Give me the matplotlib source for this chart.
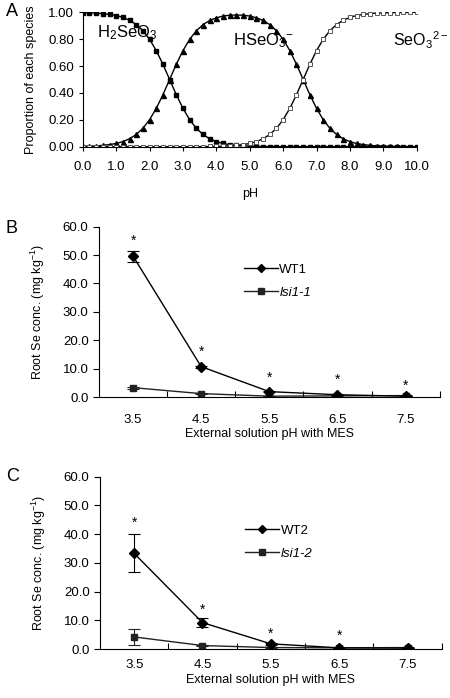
import matplotlib
matplotlib.use("Agg")
import matplotlib.pyplot as plt
from matplotlib.lines import Line2D

plt.rcParams["font.family"] = ["Liberation Sans", "DejaVu Sans"]
plt.rcParams["mathtext.fontset"] = "custom"
plt.rcParams["mathtext.rm"] = "Liberation Sans"
plt.rcParams["mathtext.it"] = "Liberation Sans:italic"

# panel A: species distribution vs pH
ph = [0.0, 0.2, 0.4, 0.6, 0.8, 1.0, 1.2, 1.4, 1.6, 1.8, 2.0, 2.2, 2.4, 2.6, 2.8,
      3.0, 3.2, 3.4, 3.6, 3.8, 4.0, 4.2, 4.4, 4.6, 4.8, 5.0, 5.2, 5.4, 5.6, 5.8,
      6.0, 6.2, 6.4, 6.6, 6.8, 7.0, 7.2, 7.4, 7.6, 7.8, 8.0, 8.2, 8.4, 8.6, 8.8,
      9.0, 9.2, 9.4, 9.6, 9.8, 10.0]
h2seo3 = [0.997, 0.996, 0.994, 0.990, 0.984, 0.976, 0.962, 0.941, 0.909, 0.863,
          0.799, 0.715, 0.613, 0.500, 0.387, 0.285, 0.201, 0.137, 0.091, 0.059,
          0.038, 0.024, 0.015, 0.010, 0.006, 0.004, 0.002, 0.001, 0.001, 0.000,
          0.000, 0.000, 0.000, 0.000, 0.000, 0.000, 0.000, 0.000, 0.000, 0.000,
          0.000, 0.000, 0.000, 0.000, 0.000, 0.000, 0.000, 0.000, 0.000, 0.000,
          0.000]
hseo3 = [0.003, 0.004, 0.006, 0.010, 0.016, 0.024, 0.038, 0.059, 0.091, 0.137,
         0.201, 0.285, 0.387, 0.500, 0.613, 0.715, 0.799, 0.862, 0.908, 0.939,
         0.959, 0.972, 0.978, 0.980, 0.978, 0.972, 0.959, 0.939, 0.908, 0.863,
         0.799, 0.715, 0.613, 0.500, 0.387, 0.285, 0.201, 0.137, 0.091, 0.059,
         0.038, 0.024, 0.016, 0.010, 0.006, 0.004, 0.003, 0.002, 0.001, 0.001,
         0.000]
seo3 = [0.000, 0.000, 0.000, 0.000, 0.000, 0.000, 0.000, 0.000, 0.000, 0.000,
        0.000, 0.000, 0.000, 0.000, 0.000, 0.000, 0.000, 0.000, 0.001, 0.002,
        0.002, 0.004, 0.006, 0.010, 0.016, 0.024, 0.038, 0.059, 0.091, 0.137,
        0.201, 0.285, 0.387, 0.500, 0.613, 0.715, 0.799, 0.863, 0.909, 0.941,
        0.962, 0.976, 0.984, 0.990, 0.994, 0.996, 0.997, 0.998, 0.999, 0.999,
        1.000]

# panels B and C: root Se concentration
ext_ph = [3.5, 4.5, 5.5, 6.5, 7.5]
ext_labels = ["3.5", "4.5", "5.5", "6.5", "7.5"]

wt1 = [49.6, 10.7, 1.9, 0.8, 0.3]
wt1_err = [1.9, 0.4, 0.2, 0.1, 0.1]
lsi11 = [3.3, 1.2, 0.3, 0.4, 0.5]
lsi11_err = [0.3, 0.2, 0.1, 0.1, 0.1]
stars_b = [55.0, 16.0, 6.8, 6.0, 3.8]

wt2 = [33.3, 9.2, 1.8, 0.4, 0.3]
wt2_err = [6.6, 1.6, 0.3, 0.1, 0.1]
lsi12 = [4.2, 1.2, 0.5, 0.4, 0.5]
lsi12_err = [2.8, 0.2, 0.1, 0.1, 0.1]
stars_c = [44.0, 13.5, 5.2, 4.5]

fig = plt.figure(figsize=(4.5, 6.98), dpi=100)

axA = fig.add_axes([0.184, 0.7898, 0.742, 0.1926])
axA.plot(ph, h2seo3, "-", color="black", lw=1, marker="s", ms=2.6,
         mfc="black", mec="black")
axA.plot(ph, hseo3, "-", color="black", lw=1, marker="^", ms=3.6,
         mfc="black", mec="black")
axA.plot(ph, seo3, "-", color="black", lw=1, marker="s", ms=3.4,
         mfc="white", mec="#555555", mew=0.7)
axA.set_xlim(0, 10)
axA.set_ylim(0, 1.0)
axA.set_xticks(range(11))
axA.set_xticklabels(["%.1f" % v for v in range(11)])
axA.set_yticks([0, 0.2, 0.4, 0.6, 0.8, 1.0])
axA.set_yticklabels(["0.00", "0.20", "0.40", "0.60", "0.80", "1.00"])
axA.set_xlabel("pH", fontsize=9, labelpad=11)
axA.set_ylabel("Proportion of each species", fontsize=9, labelpad=8)
axA.text(0.42, 0.85, "H$_2$SeO$_3$", fontsize=12, va="center")
axA.text(4.49, 0.79, "HSeO$_3$$^{-}$", fontsize=12, va="center")
axA.text(9.3, 0.79, "SeO$_3$$^{2-}$", fontsize=11.5, va="center", clip_on=False)
for s in ["top", "right"]:
    axA.spines[s].set_visible(False)
axA.tick_params(labelsize=9.5, length=3, width=0.8)
axA.tick_params(axis="x", pad=7)
fig.text(0.013, 0.983, "A", fontsize=13, va="center")


def conc_panel(ax, wt, wt_err, lsi, lsi_err, stars, wt_name, lsi_name, leg_y,
               tick_pad, xlab_pad):
    ax.errorbar(ext_ph, wt, yerr=wt_err, color="black", lw=1, marker="D",
                ms=5, capsize=4, elinewidth=0.8, capthick=0.8, zorder=3)
    ax.errorbar(ext_ph, lsi, yerr=lsi_err, color="#222222", lw=1, marker="s",
                ms=5, capsize=4, elinewidth=0.8, capthick=0.8, zorder=2)
    for x, y in zip(ext_ph, stars):
        ax.text(x, y, "*", ha="center", va="center", fontsize=10)
    ax.set_xlim(3.0, 8.0)
    ax.set_ylim(0, 60)
    ax.set_xticks(ext_ph)
    ax.set_xticklabels(ext_labels)
    ax.set_xticks([4.0, 5.0, 6.0, 7.0, 8.0], minor=True)
    ax.tick_params(axis="x", which="major", length=0, pad=tick_pad, labelsize=9.5)
    ax.tick_params(axis="x", which="minor", direction="in", length=4, width=0.8)
    ax.set_yticks([0, 10, 20, 30, 40, 50, 60])
    ax.set_yticklabels(["%.1f" % v for v in [0, 10, 20, 30, 40, 50, 60]])
    ax.tick_params(axis="y", labelsize=9.5, length=4, width=0.8)
    for s in ["top", "right"]:
        ax.spines[s].set_visible(False)
    ax.set_xlabel("External solution pH with MES", fontsize=9, labelpad=xlab_pad)
    ax.set_ylabel("Root Se conc. (mg kg$^{-1}$)", fontsize=9, labelpad=11)
    handles = [Line2D([], [], color="black", lw=1, marker="D", ms=4),
               Line2D([], [], color="#222222", lw=1, marker="s", ms=4)]
    leg = ax.legend(handles, [wt_name, lsi_name], loc="center left",
                    bbox_to_anchor=(0.39, leg_y), frameon=False, fontsize=9.5,
                    handlelength=2.6, handletextpad=0.1, labelspacing=0.85)
    leg.get_texts()[1].set_style("italic")


axB = fig.add_axes([0.22, 0.4312, 0.757, 0.2441])
conc_panel(axB, wt1, wt1_err, lsi11, lsi11_err, stars_b, "WT1", "lsi1-1", 0.68,
           12, 2)
fig.text(0.013, 0.673, "B", fontsize=13, va="center")

axC = fig.add_axes([0.2222, 0.0702, 0.7593, 0.2468])
conc_panel(axC, wt2, wt2_err, lsi12, lsi12_err, stars_c, "WT2", "lsi1-2", 0.62,
           7, 2)
fig.text(0.013, 0.318, "C", fontsize=13, va="center")

fig.savefig("out.png", dpi=100)
